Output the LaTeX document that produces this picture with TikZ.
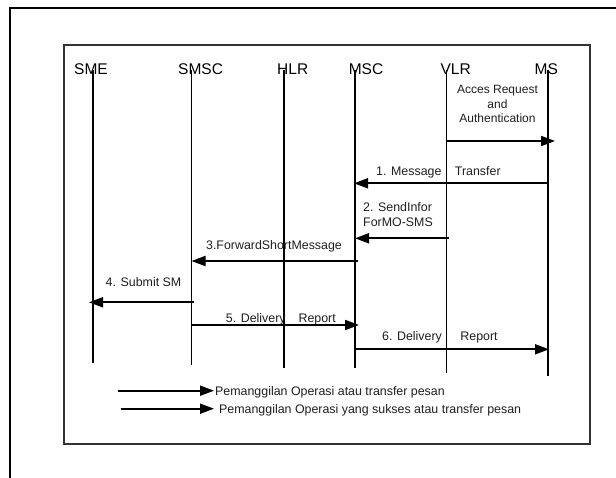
\documentclass[tikz,border=0pt]{standalone}
\usepackage{fontspec}
\setmainfont{Liberation Sans}
\usetikzlibrary{arrows.meta}
\begin{document}
\begin{tikzpicture}[x=1pt,y=-1pt,
  life/.style={line width=1.8pt, black},
  msg/.style={line width=1.9pt, black, -{Triangle[length=14pt,width=10pt]}},
  hdr/.style={anchor=base west, inner sep=0pt, font=\fontsize{15.5}{18}\selectfont, text=black},
  lbl/.style={inner sep=0pt, font=\fontsize{12.4}{14.4}\selectfont, text=black!88},
]
\useasboundingbox (0,0) rectangle (616,477);
\fill[white] (0,0) rectangle (616,477);
% outer frame (cut off at right and bottom)
\draw[line width=2.6pt] (10,480) -- (10,8);
\draw[line width=1.6pt] (8.7,8) -- (620,8);
% inner frame
\draw[line width=1.3pt, black!80] (64,45) rectangle (590,444);

% headers
\node[hdr] (sme)  at (74,74.9)    {SME};
\node[hdr] (smsc) at (178,74.9)   {SMSC};
\node[hdr] (hlr)  at (277,74.9)   {HLR};
\node[hdr] (msc)  at (348.6,74.9) {MSC};
\node[hdr] (vlr)  at (440.4,74.9) {VLR};
\node[hdr] (ms)   at (534.5,74.9) {MS};

% lifelines
\coordinate (smeT)  at (92.8,70);  \coordinate (smeB)  at (92.8,363);
\coordinate (smscT) at (191.5,70); \coordinate (smscB) at (191.5,365);
\coordinate (hlrT)  at (283.9,70); \coordinate (hlrB)  at (283.9,367.7);
\coordinate (mscT)  at (355,70);   \coordinate (mscB)  at (355,367.7);
\coordinate (vlrT)  at (446.5,70); \coordinate (vlrB)  at (446.5,373.3);
\coordinate (msT)   at (548.2,70); \coordinate (msB)   at (548.2,376);
\draw[life, line width=2.3pt] (smeT) -- (smeB);
\draw[life, line width=1.5pt] (smscT) -- (smscB);
\draw[life] (hlrT) -- (hlrB);
\draw[life] (mscT) -- (mscB);
\draw[life, line width=1.5pt] (vlrT) -- (vlrB);
\draw[life, line width=1.5pt] (msT) -- (msB);

% message end points
\coordinate (a0) at (446.5,141);   \coordinate (b0) at (555,141);
\coordinate (a1) at (548.2,183.3); \coordinate (b1) at (354,183.3);
\coordinate (a2) at (449,238.3);   \coordinate (b2) at (355,238.3);
\coordinate (a3) at (358,261);     \coordinate (b3) at (191.5,261);
\coordinate (a4) at (194,302.3);   \coordinate (b4) at (89,302.3);
\coordinate (a5) at (191.5,325);   \coordinate (b5) at (359,325);
\coordinate (a6) at (355,349.3);   \coordinate (b6) at (549,349.3);
\coordinate (ka) at (118,390.7);   \coordinate (kb) at (214,390.7);
\coordinate (kc) at (120.7,408.7); \coordinate (kd) at (214,408.7);

\draw[msg] (a0) -- (b0);
\draw[msg] (a1) -- (b1);
\draw[msg] (a2) -- (b2);
\draw[msg] (a3) -- (b3);
\draw[msg] (a4) -- (b4);
\draw[msg] (a5) -- (b5);
\draw[msg] (a6) -- (b6);
\draw[msg] (ka) -- (kb);
\draw[msg] (kc) -- (kd);

% labels
\node[lbl, align=center, font=\fontsize{12}{14.4}\selectfont] (t0) at (497.5,104) {Acces Request\\and\\Authentication};
\node[lbl, anchor=base west] (t1) at (376,175) {1. Message\hspace{13.5pt}Transfer};
\node[lbl, anchor=west, align=left] (t2) at (363,214.5) {2. SendInfor\\ForMO-SMS};
\node[lbl, anchor=base] (t3) at (274,249.3) {3.ForwardShortMessage};
\node[lbl, anchor=base] (t4) at (143.5,286) {4. Submit SM};
\node[lbl, anchor=base west] (t5) at (225.7,322) {5. Delivery\hspace{13pt}Report};
\node[lbl, anchor=base west] (t6) at (382,340.3) {6. Delivery\hspace{18.5pt}Report};
\node[lbl, anchor=base west] (k1) at (215,395) {Pemanggilan Operasi atau transfer pesan};
\node[lbl, anchor=base west] (k2) at (219,413) {Pemanggilan Operasi yang sukses atau transfer pesan};
\end{tikzpicture}
\end{document}
